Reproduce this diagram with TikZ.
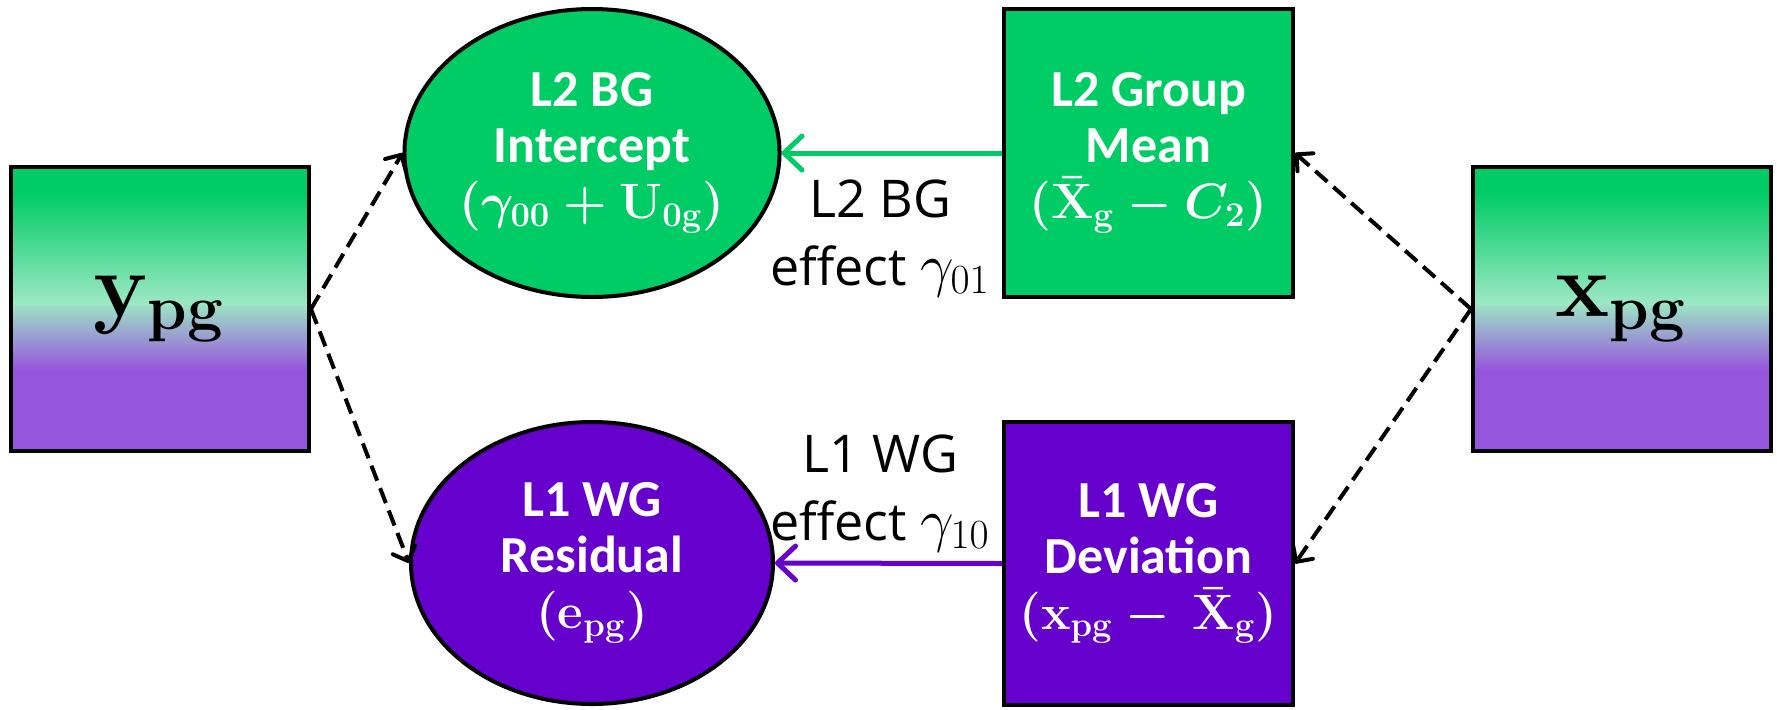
\documentclass[tikz,border=0pt]{standalone}
\usepackage[no-math]{fontspec}
\setmainfont{Carlito}
\newfontfamily\labfont{Open Sans}
\usetikzlibrary{shapes.geometric,arrows.meta}
\definecolor{grn}{RGB}{0,204,102}
\definecolor{pur}{RGB}{102,0,204}
\definecolor{mint}{RGB}{157,232,196}
\definecolor{lpur}{RGB}{150,85,221}
\begin{document}
\begin{tikzpicture}[x=0.5pt,y=-0.5pt,
  txt/.style={text=white, font=\bfseries\fontsize{26}{28}\selectfont, align=center},
  ell/.style={ellipse, draw=black, line width=2pt, minimum width=181pt, inner sep=0pt},
  sqbox/.style={rectangle, draw=black, line width=2pt, inner sep=0pt},
  lbl/.style={font=\labfont\fontsize{26}{34}\selectfont, align=center, inner sep=0pt},
  big/.style={font=\fontsize{20}{20}\selectfont},
  dsh/.style={draw=black, line width=2pt, dash pattern=on 8pt off 4pt,
    -{Straight Barb[length=6pt,width=12pt,line width=2pt,round]}},
  effarr/.style={line width=2.5pt,
    -{Straight Barb[length=9pt,width=17pt,line width=2.5pt,round]}}
]
\useasboundingbox (0,0) rectangle (1777,709);
% gradient fills for the observed-variable boxes
\foreach \xa/\xb in {11/309, 1473/1771}{
  \fill[lpur] (\xa,368) rectangle (\xb,451);
  \shade[top color=mint,bottom color=lpur] (\xa,302) rectangle (\xb,370);
  \shade[top color=grn,bottom color=mint] (\xa,193) rectangle (\xb,304);
  \fill[grn] (\xa,167) rectangle (\xb,195);
}
\node[sqbox, minimum width=149pt, minimum height=142pt, big] (ybox) at (160,309)
  {\scalebox{2.2}{\boldmath$\mathbf{y}_{\mathbf{pg}}$}};
\node[sqbox, minimum width=149pt, minimum height=142pt, big] (xbox) at (1622,309)
  {\scalebox{2.2}{\boldmath$\mathbf{x}_{\mathbf{pg}}$}};

\node[ell, fill=grn, minimum height=144pt, txt] (ell1) at (592,153)
  {L2 BG\\Intercept\\{\boldmath$(\gamma_{00}+\mathbf{U}_{\mathbf{0g}})$}};
\node[ell, fill=pur, minimum height=141pt, txt] (ell2) at (592,563)
  {L1 WG\\Residual\\{\boldmath$(\mathbf{e}_{\mathbf{pg}})$}};

\node[sqbox, fill=grn, minimum width=144.5pt, minimum height=144pt, txt] (gbox) at (1148.5,153)
  {L2 Group\\Mean\\{\boldmath$(\bar{\mathbf{X}}_{\mathbf{g}}-C_2)$}};
\node[sqbox, fill=pur, minimum width=144.5pt, minimum height=141.5pt, txt] (pbox) at (1148.5,563.5)
  {L1 WG\\Deviation\\{\boldmath$(\mathbf{x}_{\mathbf{pg}}-\,\bar{\mathbf{X}}_{\mathbf{g}})$}};

\draw[effarr, grn] (gbox.west) -- (ell1.east);
\draw[effarr, pur] (pbox.west) -- (ell2.east);

\node[lbl] (lab1) at (880,238) {L2 BG\\effect \scalebox{1.2}{$\gamma_{01}$}};
\node[lbl] (lab2) at (880,493) {L1 WG\\effect \scalebox{1.2}{$\gamma_{10}$}};

\draw[dsh] (ybox.east) -- (ell1.west);
\draw[dsh] (ybox.east) -- (ell2.west);
\draw[dsh] (xbox.west) -- (gbox.east);
\draw[dsh] (xbox.west) -- (pbox.east);
\end{tikzpicture}
\end{document}
